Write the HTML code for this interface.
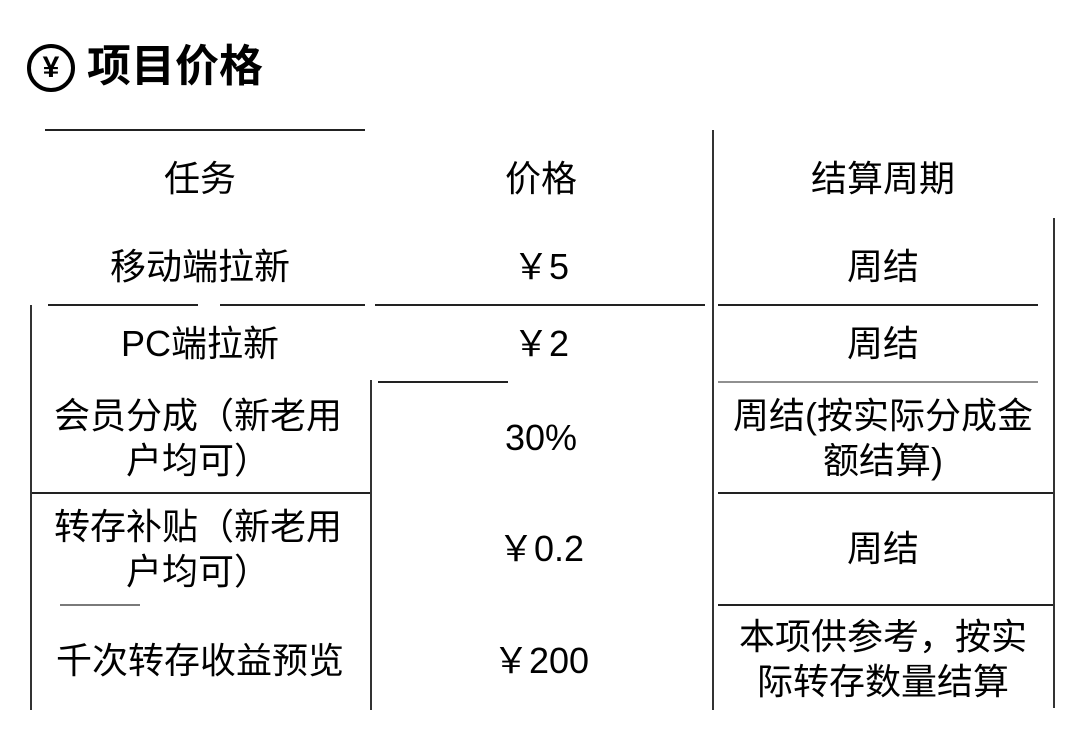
<!DOCTYPE html>
<html><head><meta charset="utf-8"><style>
body{margin:0;width:1080px;height:747px;background:#fff;position:relative;overflow:hidden;font-family:"Liberation Sans","Noto Sans CJK SC",sans-serif;color:#000}
.t{position:absolute;text-align:center;font-size:36px;line-height:45px;display:flex;align-items:center;justify-content:center}
.h{position:absolute;height:0;border-top:2px solid #222}
.v{position:absolute;width:0;border-left:2px solid #333}
</style></head><body>
<div style="position:absolute;left:27px;top:44px;width:40px;height:40px;border:4px solid #000;border-radius:50%;font-size:30px;font-weight:bold;line-height:40px;text-align:center">¥</div>
<div style="position:absolute;left:87px;top:38px;font-size:44px;font-weight:bold;line-height:58px">项目价格</div>

<div class="h" style="left:45px;top:129px;width:320px"></div>
<div class="h" style="left:48px;top:304px;width:150px"></div>
<div class="h" style="left:220px;top:304px;width:145px"></div>
<div class="h" style="left:375px;top:304px;width:330px"></div>
<div class="h" style="left:718px;top:304px;width:320px"></div>
<div class="h" style="left:378px;top:381px;width:130px"></div>
<div class="h" style="left:718px;top:381px;width:320px;opacity:.5"></div>
<div class="h" style="left:30px;top:492px;width:340px"></div>
<div class="h" style="left:718px;top:492px;width:335px"></div>
<div class="h" style="left:60px;top:604px;width:80px;opacity:.6"></div>
<div class="h" style="left:718px;top:604px;width:335px"></div>

<div class="v" style="left:30px;top:305px;height:405px"></div>
<div class="v" style="left:370px;top:380px;height:330px"></div>
<div class="v" style="left:712px;top:130px;height:580px"></div>
<div class="v" style="left:1053px;top:218px;height:490px"></div>

<div class="t" style="left:30px;top:150px;width:340px;height:56px">任务</div>
<div class="t" style="left:370px;top:150px;width:342px;height:56px">价格</div>
<div class="t" style="left:712px;top:150px;width:342px;height:56px">结算周期</div>
<div class="t" style="left:30px;top:238px;width:340px;height:56px">移动端拉新</div>
<div class="t" style="left:370px;top:238px;width:342px;height:56px">￥5</div>
<div class="t" style="left:712px;top:238px;width:342px;height:56px">周结</div>
<div class="t" style="left:30px;top:315px;width:340px;height:56px">PC端拉新</div>
<div class="t" style="left:370px;top:315px;width:342px;height:56px">￥2</div>
<div class="t" style="left:712px;top:315px;width:342px;height:56px">周结</div>
<div class="t" style="left:50px;top:393px;width:296px;height:90px">会员分成（新老用<br>户均可）</div>
<div class="t" style="left:370px;top:397px;width:342px;height:80px">30%</div>
<div class="t" style="left:722px;top:393px;width:322px;height:90px">周结(按实际分成金<br>额结算)</div>
<div class="t" style="left:50px;top:504px;width:296px;height:90px">转存补贴（新老用<br>户均可）</div>
<div class="t" style="left:370px;top:508px;width:342px;height:80px">￥0.2</div>
<div class="t" style="left:712px;top:508px;width:342px;height:80px">周结</div>
<div class="t" style="left:30px;top:620px;width:340px;height:80px">千次转存收益预览</div>
<div class="t" style="left:370px;top:620px;width:342px;height:80px">￥200</div>
<div class="t" style="left:722px;top:614px;width:322px;height:90px">本项供参考，按实<br>际转存数量结算</div>
</body></html>
